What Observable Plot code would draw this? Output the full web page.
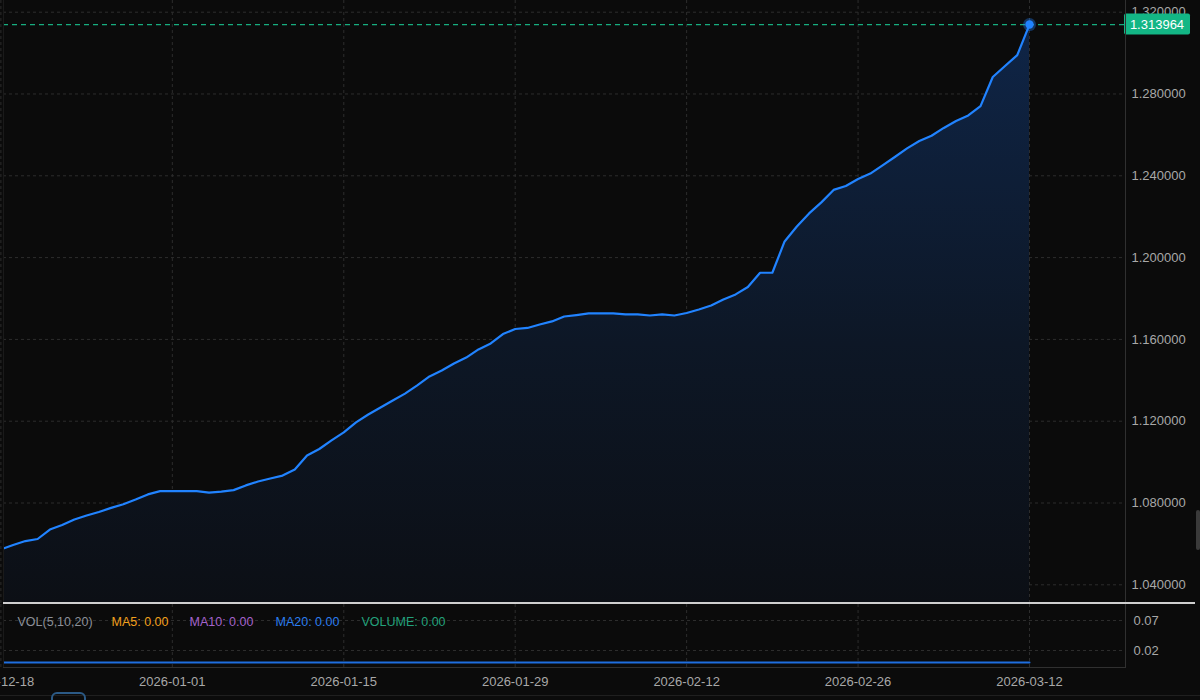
<!DOCTYPE html>
<html>
<head>
<meta charset="utf-8">
<script src="https://cdn.jsdelivr.net/npm/d3@7"></script>
<script src="https://cdn.jsdelivr.net/npm/@observablehq/plot@0.6"></script>
<style>
  html, body { margin: 0; padding: 0; background: #0b0b0b; }
  #wrap { position: relative; width: 1200px; height: 700px; overflow: hidden; background: #0b0b0b; font-family: 'Liberation Sans', Arial, sans-serif; }
  #wrap svg { position: absolute; left: 0; }
  .deco { position: absolute; }
</style>
</head>
<body>
<div id="wrap"></div>
<script>
// ---------------- data ----------------
const startDate = "2025-12-18";
const endDate = "2026-03-12";
const priceValues = [
  1.0573, 1.0595, 1.0614, 1.0624, 1.0670, 1.0692, 1.0719, 1.0739, 1.0756, 1.0776,
  1.0794, 1.0817, 1.0842, 1.0858, 1.0858, 1.0858, 1.0858, 1.0851, 1.0856, 1.0863,
  1.0886, 1.0905, 1.0920, 1.0934, 1.0964, 1.1032, 1.1064, 1.1106, 1.1145, 1.1194,
  1.1233, 1.1267, 1.1301, 1.1335, 1.1375, 1.1419, 1.1448, 1.1482, 1.1511, 1.1551,
  1.1580, 1.1626, 1.1651, 1.1656, 1.1673, 1.1688, 1.1712, 1.1719, 1.1727, 1.1727,
  1.1727, 1.1722, 1.1722, 1.1717, 1.1722, 1.1717, 1.1729, 1.1746, 1.1766, 1.1795,
  1.1820, 1.1856, 1.1926, 1.1926, 1.2079, 1.2152, 1.2216, 1.2270, 1.2331, 1.2350,
  1.2384, 1.2411, 1.2451, 1.2492, 1.2534, 1.2570, 1.2596, 1.2634, 1.2668, 1.2695,
  1.2741, 1.2883, 1.2937, 1.2990, 1.313964
];
const volumeValues = [
  0,0,0,0,0,0,0,0,0,0, 0,0,0,0,0,0,0,0,0,0, 0,0,0,0,0,0,0,0,0,0,
  0,0,0,0,0,0,0,0,0,0, 0,0,0,0,0,0,0,0,0,0, 0,0,0,0,0,0,0,0,0,0,
  0,0,0,0,0,0,0,0,0,0, 0,0,0,0,0,0,0,0,0,0, 0,0,0,0,0
];
const xTickLabels = ["2025-12-18", "2026-01-01", "2026-01-15", "2026-01-29", "2026-02-12", "2026-02-26", "2026-03-12"];
const priceTicks = [1.04, 1.08, 1.12, 1.16, 1.20, 1.24, 1.28, 1.32];
const volumeTicks = [0.02, 0.07];
const legendLabels = ["VOL(5,10,20)", "MA5: 0.00", "MA10: 0.00", "MA20: 0.00", "VOLUME: 0.00"];
const legendColors = ["#8c9099", "#f2a11d", "#a563cc", "#2b7ef0", "#23a27c"];

// ---------------- tables ----------------
const dates = d3.utcDay.range(new Date(startDate), d3.utcDay.offset(new Date(endDate), 1));
const prices = dates.map((d, i) => ({date: d, value: priceValues[i]}));
const volumes = dates.map((d, i) => ({date: d, value: volumeValues[i]}));
const xTicks = xTickLabels.map(s => new Date(s));
const last = prices[prices.length - 1];

const font = "'Liberation Sans', Arial, sans-serif";
const gridColor = "#2d2d2d";
const xScale = {type: "utc", domain: [new Date(startDate), new Date(endDate)], range: [0.4, 1029]};
const priceDomain = [1.03037, 1.32572];

// ---------------- price pane ----------------
const priceChart = Plot.plot({
  width: 1200, height: 604,
  marginLeft: 3, marginRight: 75, marginTop: 0, marginBottom: 0,
  style: {background: "transparent", color: "#a8a8a8", fontFamily: font, fontSize: "13px", overflow: "hidden"},
  x: {...xScale, axis: null, label: null},
  y: {domain: priceDomain, label: null},
  marks: [
    Plot.gridX(xTicks, {stroke: gridColor, strokeOpacity: 1, strokeDasharray: "3,3"}),
    Plot.gridY(priceTicks, {stroke: gridColor, strokeOpacity: 1, strokeDasharray: "3,3"}),
    Plot.areaY(prices, {x: "date", y1: priceDomain[0], y2: "value", fill: "url(#priceFill)", clip: true}),
    Plot.lineY(prices, {x: "date", y: "value", stroke: "#2183ff", strokeWidth: 2.2, clip: true}),
    Plot.ruleY([last], {y: "value", stroke: "#17ad7f", strokeWidth: 1.2, strokeDasharray: "5,4"}),
    Plot.dot([last], {x: "date", y: "value", r: 6.5, fill: "#2183ff", fillOpacity: 0.35}),
    Plot.dot([last], {x: "date", y: "value", r: 4.2, fill: "#2183ff"}),
    Plot.axisY(priceTicks, {anchor: "right", label: null, tickFormat: d3.format(".6f"), tickSize: 0, tickPadding: 6, fontSize: 13, fill: "#a8a8a8"})
  ]
});

// gradient fill for the area
const defs = d3.select(priceChart).insert("defs", ":first-child");
const grad = defs.append("linearGradient").attr("id", "priceFill")
  .attr("x1", 0).attr("y1", 0).attr("x2", 0).attr("y2", 1);
grad.append("stop").attr("offset", 0).attr("stop-color", "#0f2547");
grad.append("stop").attr("offset", 0.55).attr("stop-color", "#0d1726");
grad.append("stop").attr("offset", 1).attr("stop-color", "#0c0f15");

// last value badge
const yLast = priceChart.scale("y").apply(last.value);
const badge = d3.select(priceChart).append("g");
badge.append("rect").attr("x", 1124).attr("y", yLast - 10.5).attr("width", 66).attr("height", 21).attr("rx", 2).attr("fill", "#13b685");
badge.append("text").attr("x", 1157).attr("y", yLast).attr("dy", "0.35em").attr("text-anchor", "middle")
  .attr("fill", "#ffffff").attr("font-size", 13).attr("font-family", font).text(d3.format(".6f")(last.value));

// ---------------- volume pane ----------------
const legendOffsets = [14, 108, 186, 272, 358];
const volumeChart = Plot.plot({
  width: 1200, height: 96,
  marginLeft: 3, marginRight: 75, marginTop: 0, marginBottom: 33,
  style: {background: "transparent", color: "#a8a8a8", fontFamily: font, fontSize: "13px", overflow: "hidden"},
  x: {...xScale, label: null},
  y: {domain: [-0.00833, 0.09667], label: null},
  marks: [
    Plot.gridX(xTicks, {stroke: gridColor, strokeOpacity: 1, strokeDasharray: "3,3"}),
    Plot.gridY(volumeTicks, {stroke: gridColor, strokeOpacity: 1, strokeDasharray: "3,3"}),
    Plot.lineY(volumes, {x: "date", y: "value", stroke: "#1f6fe0", strokeWidth: 2, clip: true}),
    Plot.axisY(volumeTicks, {anchor: "right", label: null, tickFormat: d3.format(".2f"), tickSize: 0, tickPadding: 8, fontSize: 13, fill: "#a8a8a8"}),
    Plot.axisX(xTicks, {anchor: "bottom", label: null, tickFormat: d3.utcFormat("%Y-%m-%d"), tickSize: 0, tickPadding: 9, fontSize: 13, fill: "#a8a8a8"}),
    ...legendLabels.map((label, i) =>
      Plot.text([label], {text: d => d, frameAnchor: "top-left", lineAnchor: "middle", dx: legendOffsets[i], dy: 17, textAnchor: "start", fill: legendColors[i], fontSize: 12.5}))
  ]
});

// ---------------- assemble ----------------
const wrap = document.getElementById("wrap");
priceChart.style.top = "0px";
volumeChart.style.top = "604px";
wrap.appendChild(priceChart);
wrap.appendChild(volumeChart);

function deco(css) {
  const el = document.createElement("div");
  el.className = "deco";
  Object.assign(el.style, css);
  wrap.appendChild(el);
}
deco({left: "1125px", top: "0px", width: "1px", height: "668px", background: "#303030"});
deco({left: "3px", top: "0px", width: "1px", height: "668px", background: "#1a1a1a"});
deco({left: "3px", top: "667px", width: "1123px", height: "1px", background: "#303030"});
deco({left: "3px", top: "602px", width: "1192px", height: "2px", background: "#cfcfcf"});
deco({left: "0px", top: "695px", width: "1200px", height: "1px", background: "#1f1f1f"});
deco({left: "51px", top: "692px", width: "31px", height: "20px", border: "2px solid #2b5a86", borderRadius: "6px"});
deco({left: "1196px", top: "510px", width: "4px", height: "40px", background: "#3a3a3a", borderRadius: "2px"});
</script>
</body>
</html>
